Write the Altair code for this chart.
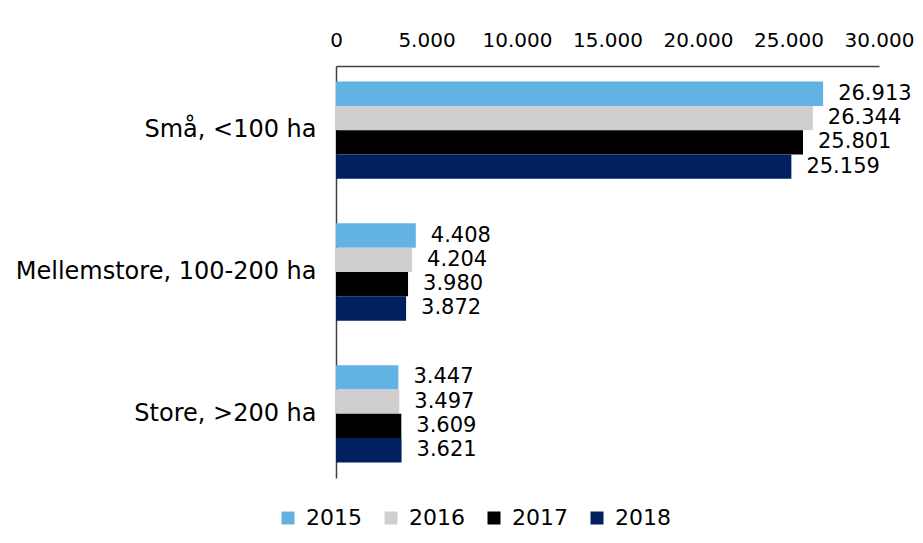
import altair as alt
import pandas as pd

categories = ["Små, <100 ha", "Mellemstore, 100-200 ha", "Store, >200 ha"]
years = ["2015", "2016", "2017", "2018"]
values_2015 = [26913, 4408, 3447]
values_2016 = [26344, 4204, 3497]
values_2017 = [25801, 3980, 3609]
values_2018 = [25159, 3872, 3621]
colors = ["#62B3E4", "#D0CECE", "#000000", "#002060"]

series = {"2015": values_2015, "2016": values_2016, "2017": values_2017, "2018": values_2018}
rows = []
for y in years:
    for c, v in zip(categories, series[y]):
        rows.append({"kategori": c, "år": y, "værdi": v, "label": f"{v:,}".replace(",", ".")})
df = pd.DataFrame(rows)

FONT = "DejaVu Sans"

y_enc = alt.Y("kategori:N", sort=categories, title=None,
              scale=alt.Scale(paddingInner=0.314, paddingOuter=0.11),
              axis=alt.Axis(ticks=False, labelFontSize=24, labelPadding=20, labelLimit=400,
                            labelColor="#000000", domainColor="#404040", domainWidth=1.5,
                            labelFont=FONT))
yoff = alt.YOffset("år:N", sort=years, scale=alt.Scale(paddingInner=0, paddingOuter=0))

bars = alt.Chart(df).mark_bar().encode(
    x=alt.X("værdi:Q", title=None,
            scale=alt.Scale(domain=[0, 30000], nice=False),
            axis=alt.Axis(orient="top", values=[0, 5000, 10000, 15000, 20000, 25000, 30000],
                          labelExpr="replace(format(datum.value, ','), ',', '.')",
                          ticks=False, grid=False, labelFontSize=20, labelPadding=16,
                          labelColor="#000000", domainColor="#404040", domainWidth=1.5,
                          labelFont=FONT, labelFlush=False)),
    y=y_enc,
    yOffset=yoff,
    color=alt.Color("år:N", sort=years, scale=alt.Scale(domain=years, range=colors),
                    legend=alt.Legend(title=None, orient="none", direction="horizontal",
                                      legendX=-59, legendY=441, symbolType="square",
                                      symbolSize=169, symbolStrokeWidth=0,
                                      labelFontSize=22, labelFont=FONT, labelColor="#000000",
                                      columnPadding=18, labelOffset=7)),
)

text = alt.Chart(df).mark_text(align="left", baseline="middle", dx=15, fontSize=21,
                                font=FONT, color="#000000").encode(
    x=alt.X("værdi:Q"),
    y=alt.Y("kategori:N", sort=categories),
    yOffset=yoff,
    text="label:N",
)

chart = alt.layer(bars, text).properties(
    width=543, height=412,
    autosize="none",
    padding={"left": 328, "top": 58, "right": 36, "bottom": 57},
).configure_view(stroke=None)

chart.save("out.html", embed_options={"renderer": "svg", "actions": False})
